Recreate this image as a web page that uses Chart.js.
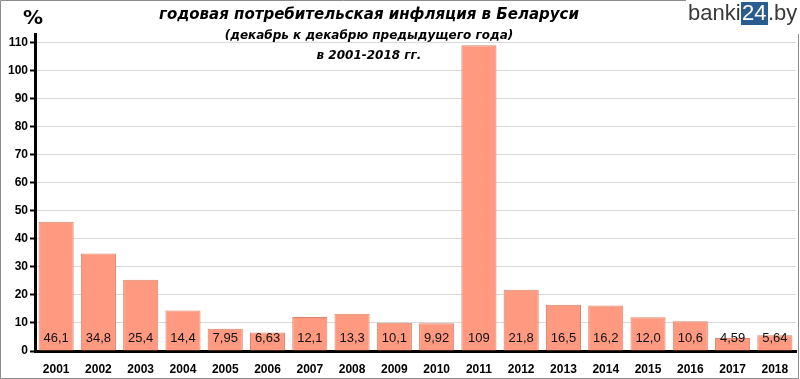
<!DOCTYPE html>
<html>
<head>
<meta charset="utf-8">
<script src="https://cdn.jsdelivr.net/npm/chart.js@4/dist/chart.umd.min.js"></script>
<style>
html,body{margin:0;padding:0;background:#fff;}
#wrap{position:relative;width:800px;height:379px;}
</style>
</head>
<body>
<div id="wrap"><canvas id="c" width="800" height="379"></canvas></div>
<script>
const years = ["2001","2002","2003","2004","2005","2006","2007","2008","2009","2010","2011","2012","2013","2014","2015","2016","2017","2018"];
const inflation = [46.1,34.8,25.4,14.4,7.95,6.63,12.1,13.3,10.1,9.92,109,21.8,16.5,16.2,12.0,10.6,4.59,5.64];
const valueLabels = ["46,1","34,8","25,4","14,4","7,95","6,63","12,1","13,3","10,1","9,92","109","21,8","16,5","16,2","12,0","10,6","4,59","5,64"];
const yTicks = [0,10,20,30,40,50,60,70,80,90,100,110];
const titleLines = ["годовая потребительская инфляция в Беларуси","(декабрь к декабрю предыдущего года)","в 2001-2018 гг."];
const unitLabel = "%";

const decor = {
  id:'decor',
  beforeDraw(chart){
    const ctx = chart.ctx;
    ctx.save();
    ctx.fillStyle='#fff';
    ctx.fillRect(0,0,chart.width,chart.height);
    ctx.restore();
  },
  afterDatasetsDraw(chart){
    const ctx = chart.ctx;
    const meta = chart.getDatasetMeta(0);
    const yb = chart.scales.y.getPixelForValue(0);
    ctx.save();
    ctx.font = '13px "Liberation Sans"';
    ctx.fillStyle = '#111';
    ctx.textAlign='center';
    ctx.textBaseline='middle';
    meta.data.forEach((el,i)=>{
      ctx.fillText(valueLabels[i], el.x, yb-13);
    });
    ctx.restore();
  },
  afterDraw(chart){
    const ctx = chart.ctx;
    ctx.save();
    ctx.strokeStyle='#8c8c8c';
    ctx.lineWidth=1;
    ctx.beginPath();
    ctx.moveTo(686,0.5); ctx.lineTo(0.5,0.5); ctx.lineTo(0.5,378.5);
    ctx.lineTo(798.5,378.5); ctx.lineTo(798.5,34);
    ctx.stroke();
    ctx.fillStyle='#000';
    ctx.textAlign='center';
    ctx.textBaseline='middle';
    ctx.font='italic bold 15px "DejaVu Sans"';
    ctx.fillText(titleLines[0],369,15);
    ctx.font='italic bold 12px "DejaVu Sans"';
    ctx.fillText(titleLines[1],369,36);
    ctx.fillText(titleLines[2],369,56);
    ctx.font='bold 20px "DejaVu Sans"';
    ctx.fillText(unitLabel,33,19);
    ctx.textAlign='left';
    ctx.textBaseline='alphabetic';
    ctx.font='22px "Liberation Sans"';
    ctx.fillStyle='#3a3a3a';
    ctx.fillText('banki',688,20);
    ctx.fillStyle='#2a5d8f';
    ctx.fillRect(741,2,27,23);
    ctx.fillStyle='#fff';
    ctx.fillText('24',742,20);
    ctx.fillStyle='#3a3a3a';
    ctx.fillText('.by',768,20);
    ctx.restore();
  }
};

new Chart(document.getElementById('c'),{
  type:'bar',
  data:{
    labels:years,
    datasets:[{
      data:inflation,
      backgroundColor:'#ff9a80',
      borderColor:'#d8836d',
      borderWidth:1,
      borderSkipped:'bottom',
      categoryPercentage:1,
      barPercentage:0.83
    }]
  },
  options:{
    responsive:false,
    animation:false,
    devicePixelRatio:1,
    layout:{padding:{left:0,right:4,top:34,bottom:0}},
    plugins:{legend:{display:false},tooltip:{enabled:false},title:{display:false}},
    scales:{
      x:{
        grid:{display:false,drawTicks:false},
        border:{color:'#000',width:3},
        ticks:{color:'#000',font:{family:'Liberation Sans',size:12,weight:'bold'},padding:11,maxRotation:0,autoSkip:false},
        afterFit(s){s.height=28;}
      },
      y:{
        min:0,max:113,
        grid:{color:'#d9d9d9',lineWidth:1,tickLength:5,tickColor:'#000',tickWidth:2},
        border:{color:'#000',width:3},
        ticks:{color:'#000',font:{family:'Liberation Sans',size:12,weight:'bold'},padding:2},
        afterBuildTicks(s){s.ticks=yTicks.map(v=>({value:v}));},
        afterFit(s){s.width=35;}
      }
    }
  },
  plugins:[decor]
});
</script>
</body>
</html>
